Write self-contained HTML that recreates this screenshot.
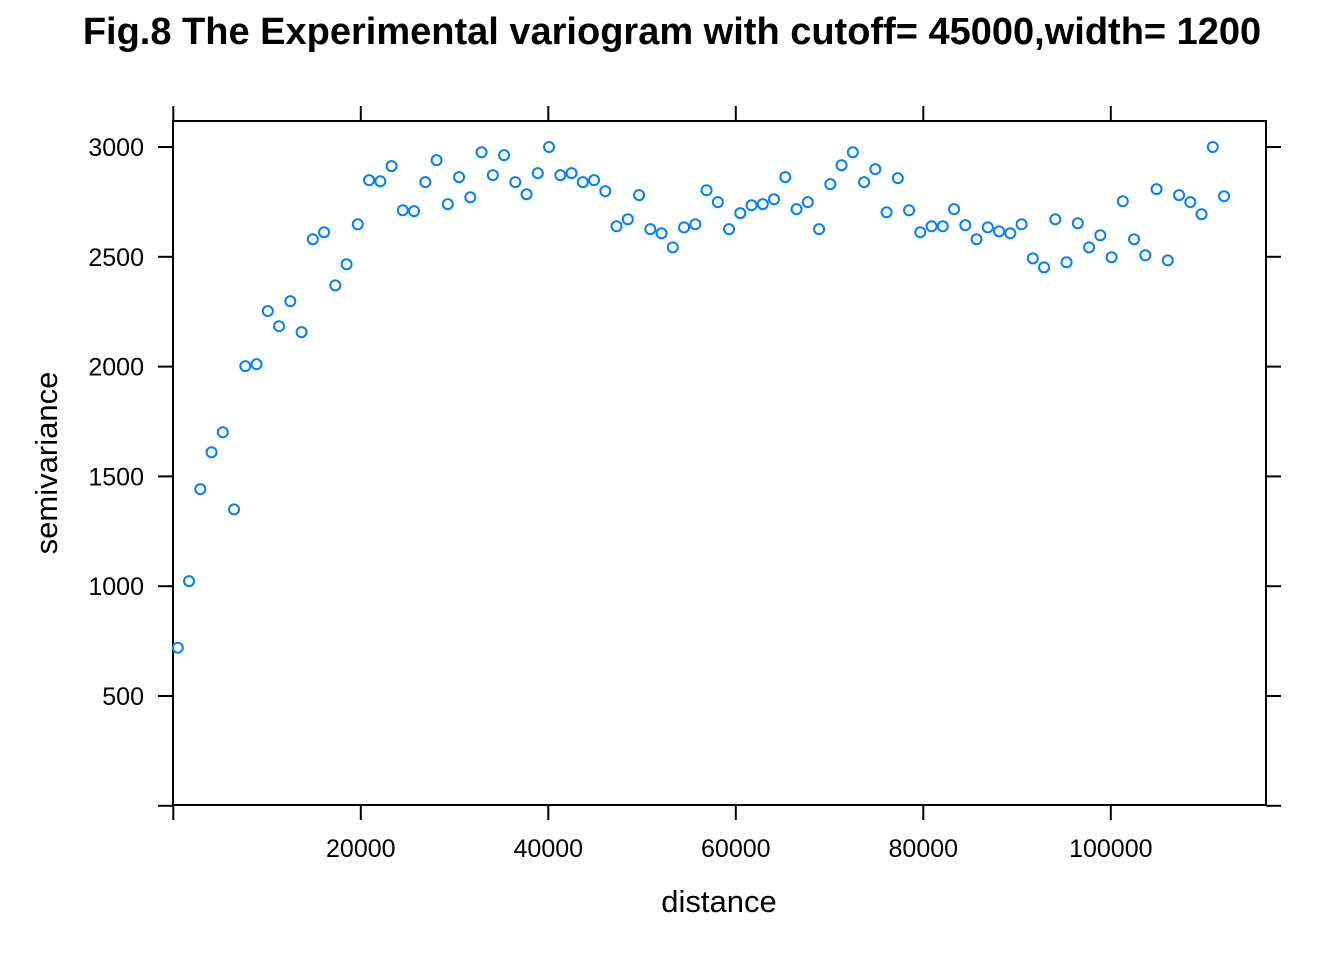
<!DOCTYPE html>
<html><head><meta charset="utf-8"><style>
html,body{margin:0;padding:0;background:#fff;}
svg{display:block;font-family:"Liberation Sans",Arial,sans-serif;}
</style></head><body>
<svg id="chart" width="1344" height="960" viewBox="0 0 1344 960">
<text x="672" y="44" text-anchor="middle" font-size="38" font-weight="bold">Fig.8 The Experimental variogram with cutoff= 45000,width= 1200</text>
<rect x="173" y="121" width="1093" height="684" fill="none" stroke="#000" stroke-width="2"/>
<g id="axes"></g>
<g id="points"></g>
<text x="719" y="912" text-anchor="middle" font-size="31">distance</text>
<text transform="translate(57,463) rotate(-90)" text-anchor="middle" font-size="31">semivariance</text>
</svg>
<script>
const distances=[480,1680,2880,4080,5280,6480,7680,8880,10080,11280,12480,13680,14880,16080,17280,18480,19680,20880,22080,23280,24480,25680,26880,28080,29280,30480,31680,32880,34080,35280,36480,37680,38880,40080,41280,42480,43680,44880,46080,47280,48480,49680,50880,52080,53280,54480,55680,56880,58080,59280,60480,61680,62880,64080,65280,66480,67680,68880,70080,71280,72480,73680,74880,76080,77280,78480,79680,80880,82080,83280,84480,85680,86880,88080,89280,90480,91680,92880,94080,95280,96480,97680,98880,100080,101280,102480,103680,104880,106080,107280,108480,109680,110880,112080];
const gamma=[720,1023,1442,1610,1701,1350,2002,2011,2253,2184,2298,2157,2580,2612,2370,2466,2648,2849,2844,2913,2712,2708,2840,2940,2740,2863,2771,2976,2872,2963,2840,2785,2881,3000,2872,2881,2840,2849,2799,2639,2671,2781,2626,2607,2543,2634,2648,2803,2749,2626,2699,2735,2740,2762,2863,2717,2749,2626,2831,2917,2976,2840,2899,2703,2858,2712,2612,2639,2639,2717,2644,2580,2634,2616,2607,2648,2493,2452,2671,2475,2653,2543,2598,2498,2753,2580,2507,2808,2484,2781,2749,2694,3000,2776];
const xTicks=[0,20000,40000,60000,80000,100000];
const xTickLabels=["","20000","40000","60000","80000","100000"];
const yTicks=[0,500,1000,1500,2000,2500,3000];
const yTickLabels=["","500","1000","1500","2000","2500","3000"];
const NS="http://www.w3.org/2000/svg";
function sx(v){return 173.3+v*0.009375;}
function sy(v){return 805.8-v*0.2196;}
function mk(tag,attrs,parent){const e=document.createElementNS(NS,tag);for(const k in attrs)e.setAttribute(k,attrs[k]);parent.appendChild(e);return e;}
const axes=document.getElementById('axes');
xTicks.forEach((t,i)=>{
  const x=sx(t);
  const b=mk('line',{x1:x,x2:x,y1:805,y2:820,stroke:'#000','stroke-width':2},axes);
  
  
  const tp=mk('line',{x1:x,x2:x,y1:106,y2:121,stroke:'#000','stroke-width':2},axes);
  
  
  if(xTickLabels[i]){
    const tx=mk('text',{x:x,y:857,'text-anchor':'middle','font-size':25},axes);
    tx.textContent=xTickLabels[i];
    
    
  }
});
yTicks.forEach((t,i)=>{
  const y=sy(t);
  const l=mk('line',{x1:158,x2:173,y1:y,y2:y,stroke:'#000','stroke-width':2},axes);
  
  
  const r=mk('line',{x1:1266,x2:1281,y1:y,y2:y,stroke:'#000','stroke-width':2},axes);
  
  
  if(yTickLabels[i]){
    const tx=mk('text',{x:144,y:y+9,'text-anchor':'end','font-size':25},axes);
    tx.textContent=yTickLabels[i];
    
    
  }
});
const pts=document.getElementById('points');
const n=Math.min(distances.length,gamma.length);
for(let i=0;i<n;i++){
  const c=mk('circle',{cx:sx(distances[i]),cy:sy(gamma[i]),r:5,fill:'none',stroke:'#0080ff','stroke-width':2},pts);
  
  
}
</script>
</body></html>
